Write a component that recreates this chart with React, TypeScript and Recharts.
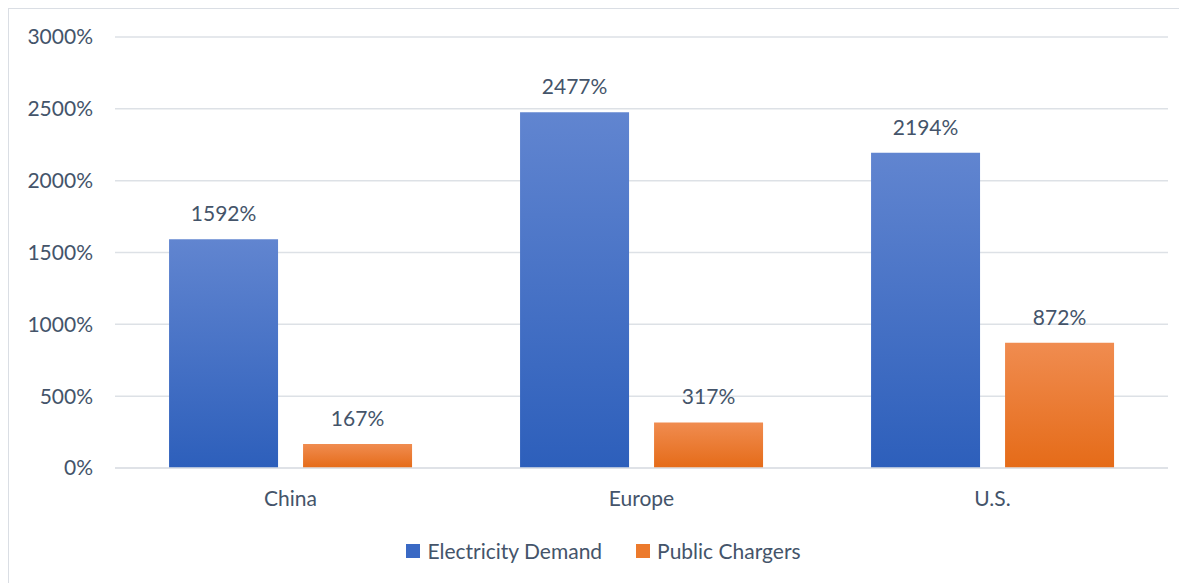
import React from 'react';
import { BarChart, Bar, XAxis, YAxis, CartesianGrid, Legend, LabelList } from 'recharts';

const regions = ['China', 'Europe', 'U.S.'];
const electricityDemand = [1592, 2477, 2194];
const publicChargers = [167, 317, 872];
const yTicks = [0, 500, 1000, 1500, 2000, 2500, 3000];

const TEXT = '#44546a';
const FONT = "Lato, 'Open Sans', sans-serif";
const FS = 21;

const data = regions.map((region, i) => ({
  region,
  demand: electricityDemand[i],
  chargers: publicChargers[i],
}));

const pct = (v: number) => `${v}%`;

const LegendContent = () => (
  <div style={{ display: 'flex', justifyContent: 'center', alignItems: 'center', paddingLeft: 30, fontFamily: FONT, fontSize: FS, color: TEXT }}>
    <span style={{ display: 'inline-block', width: 14, height: 14, background: '#3a69c4', marginRight: 7 }} />
    <span>Electricity Demand</span>
    <span style={{ display: 'inline-block', width: 14, height: 14, background: '#ec7a2c', marginLeft: 34, marginRight: 7 }} />
    <span>Public Chargers</span>
  </div>
);

const App: React.FC = () => {
  return (
    <div style={{ width: 1185, height: 580, border: '1px solid #dadee4', boxSizing: 'border-box', background: '#fff' }}>
      <BarChart
        width={1183}
        height={578}
        data={data}
        margin={{ top: 28, right: 24, left: 0, bottom: 64 }}
        barCategoryGap="15.4%"
        barGap={25}
      >
        <defs>
          <linearGradient id="blueGrad" x1="0" y1="0" x2="0" y2="1">
            <stop offset="0%" stopColor="#6185d0" />
            <stop offset="100%" stopColor="#2d5fbb" />
          </linearGradient>
          <linearGradient id="orangeGrad" x1="0" y1="0" x2="0" y2="1">
            <stop offset="0%" stopColor="#f08c50" />
            <stop offset="100%" stopColor="#e56b18" />
          </linearGradient>
        </defs>
        <CartesianGrid vertical={false} stroke="#dde1e6" strokeWidth={1.5} />
        <XAxis
          dataKey="region"
          axisLine={{ stroke: '#dde1e6', strokeWidth: 1.5 }}
          tickLine={false}
          tickMargin={17}
          tick={{ fontSize: FS, fill: TEXT, fontFamily: FONT }}
        />
        <YAxis
          width={106}
          domain={[0, 3000]}
          ticks={yTicks}
          tickFormatter={pct}
          axisLine={false}
          tickLine={false}
          tickMargin={16}
          tick={{ fontSize: FS, fill: TEXT, fontFamily: FONT }}
        />
        <Legend verticalAlign="bottom" content={<LegendContent />} wrapperStyle={{ bottom: 24 }} />
        <Bar dataKey="demand" name="Electricity Demand" fill="url(#blueGrad)" isAnimationActive={false}>
          <LabelList dataKey="demand" position="top" offset={18} formatter={pct} style={{ fontSize: FS, fill: TEXT, fontFamily: FONT }} />
        </Bar>
        <Bar dataKey="chargers" name="Public Chargers" fill="url(#orangeGrad)" isAnimationActive={false}>
          <LabelList dataKey="chargers" position="top" offset={18} formatter={pct} style={{ fontSize: FS, fill: TEXT, fontFamily: FONT }} />
        </Bar>
      </BarChart>
    </div>
  );
};

export default App;
